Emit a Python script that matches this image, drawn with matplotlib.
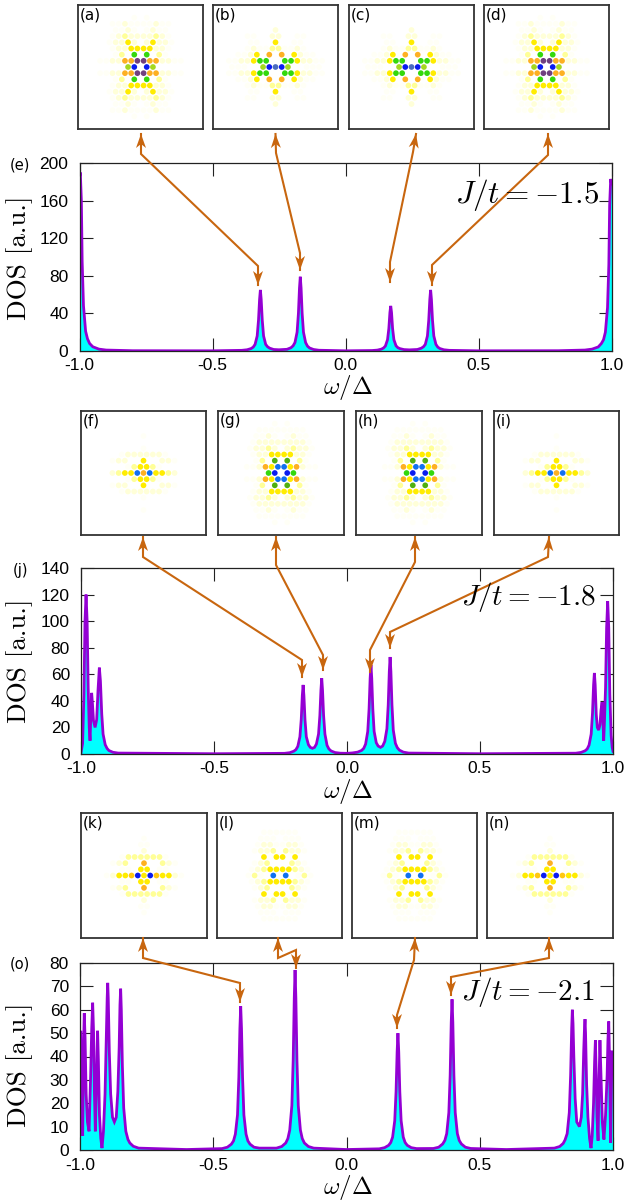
import numpy as np
import matplotlib
matplotlib.use("Agg")
import matplotlib.pyplot as plt
from matplotlib.patches import Polygon

plt.rcParams['font.family'] = ['Liberation Sans', 'DejaVu Sans']
plt.rcParams['mathtext.fontset'] = 'cm'

W, H = 626, 1202

### DOS curves
omega_e = [-1.0, -0.997, -0.993, -0.99, -0.985, -0.977, -0.97, -0.962, -0.95, -0.927, -0.9, -0.8, -0.5,
           -0.39, -0.37, -0.355, -0.347, -0.34, -0.332, -0.327, -0.323, -0.32, -0.317, -0.313, -0.308, -0.3, -0.293, -0.285, -0.27,
           -0.25, -0.22, -0.205, -0.197, -0.19, -0.182, -0.177, -0.173, -0.17, -0.167, -0.163, -0.158, -0.15, -0.143, -0.135, -0.12, -0.1,
           0.0,
           0.1, 0.12, 0.135, 0.143, 0.15, 0.158, 0.163, 0.167, 0.17, 0.173, 0.177, 0.182, 0.19, 0.197, 0.205, 0.22, 0.24,
           0.27, 0.285, 0.293, 0.3, 0.308, 0.313, 0.317, 0.32, 0.323, 0.327, 0.332, 0.34, 0.347, 0.355, 0.37, 0.39,
           0.5, 0.8, 0.9, 0.927, 0.95, 0.962, 0.97, 0.977, 0.985, 0.99, 0.993, 0.997, 1.0]
dos_e = [185, 190, 160, 95, 48, 21, 13, 8, 4.5, 2, 1, 0.3, 0.2,
         0.7, 1.3, 2.6, 4.1, 7, 16, 33, 55, 65, 55, 33, 16, 7, 4.5, 3, 1.6,
         1.3, 1.8, 3.5, 5.5, 9, 20, 40, 67, 79, 67, 40, 20, 9, 5.2, 3.2, 1.6, 0.8,
         0.2,
         0.5, 0.95, 2, 3.2, 5.3, 12, 24, 41, 48, 41, 24, 12, 5.5, 3.5, 2.5, 1.5, 1.2,
         1.6, 3, 4.5, 7, 16, 33, 55, 65, 55, 33, 16, 7, 4.1, 2.6, 1.3, 0.7,
         0.2, 0.3, 1, 2, 4.3, 8, 12, 20, 46, 92, 155, 183, 178]

omega_j = [-1.0, -0.994, -0.989, -0.985, -0.981, -0.977, -0.973, -0.969, -0.966, -0.963, -0.96, -0.957, -0.953,
           -0.947, -0.941, -0.936, -0.931, -0.927, -0.922, -0.917, -0.909, -0.902, -0.895, -0.88, -0.86, -0.5,
           -0.235, -0.215, -0.2, -0.192, -0.185, -0.177, -0.172, -0.168, -0.165, -0.162, -0.158, -0.153, -0.145, -0.138, -0.13, -0.122,
           -0.115, -0.107, -0.102, -0.098, -0.095, -0.092, -0.088, -0.083, -0.075, -0.068, -0.06, -0.045, -0.025, 0.0,
           0.02, 0.04, 0.055, 0.063, 0.07, 0.078, 0.083, 0.087, 0.09, 0.093, 0.097, 0.102, 0.11, 0.117, 0.126, 0.134,
           0.142, 0.15, 0.155, 0.159, 0.162, 0.165, 0.169, 0.174, 0.182, 0.189, 0.197, 0.212, 0.232, 0.5,
           0.86, 0.88, 0.895, 0.903, 0.91, 0.918, 0.923, 0.927, 0.93, 0.933, 0.937, 0.941, 0.946, 0.951, 0.955, 0.959,
           0.962, 0.965, 0.968, 0.972, 0.976, 0.98, 0.984, 0.988, 0.993, 0.997, 1.0]
dos_j = [1, 8, 45, 100, 120, 100, 50, 20, 10, 30, 46, 38, 25,
         20, 26, 48, 65, 55, 30, 15, 7, 4.2, 2.6, 1.3, 0.7, 0.2,
         0.5, 1, 2.1, 3.3, 5.7, 13, 26, 44, 52, 44, 26, 13, 7, 5, 4.3, 5,
         7.5, 15, 29, 48, 57, 48, 29, 15, 6.5, 3.8, 2.3, 1.1, 0.6, 0.5,
         0.8, 1.4, 2.7, 4.3, 7.5, 17, 34, 57, 67, 57, 34, 17, 8.5, 6, 5, 6,
         9.5, 19, 37, 62, 73, 62, 37, 18, 8, 4.8, 2.9, 1.4, 0.7, 0.2,
         0.6, 1.2, 2.4, 3.8, 6.7, 15, 31, 52, 61, 52, 30, 20, 18, 22, 33, 39,
         26, 10, 25, 50, 95, 115, 95, 45, 14, 5, 2]

omega_o = [-1.0, -0.997, -0.994, -0.99, -0.988, -0.986, -0.984, -0.981, -0.977, -0.972, -0.966,
           -0.96, -0.956, -0.9525, -0.949, -0.946, -0.9425, -0.939, -0.936, -0.934, -0.931, -0.927, -0.922,
           -0.9175, -0.912, -0.906, -0.901, -0.898, -0.896, -0.894, -0.89, -0.885, -0.878, -0.871, -0.864,
           -0.858, -0.853, -0.85, -0.8475, -0.845, -0.841, -0.836, -0.828, -0.82, -0.813, -0.8, -0.78, -0.6,
           -0.467, -0.447, -0.432, -0.424, -0.417, -0.409, -0.404, -0.4, -0.397, -0.394, -0.39, -0.385, -0.377, -0.37, -0.362, -0.347, -0.327,
           -0.263, -0.243, -0.228, -0.22, -0.213, -0.205, -0.2, -0.196, -0.193, -0.19, -0.186, -0.181, -0.173, -0.166, -0.158, -0.143, -0.123,
           0.0,
           0.123, 0.143, 0.158, 0.166, 0.173, 0.181, 0.186, 0.19, 0.193, 0.196, 0.2, 0.205, 0.213, 0.22, 0.228, 0.243, 0.263,
           0.326, 0.346, 0.361, 0.369, 0.376, 0.384, 0.389, 0.393, 0.396, 0.399, 0.403, 0.408, 0.416, 0.423, 0.431, 0.446, 0.466,
           0.6, 0.78, 0.8, 0.813, 0.82, 0.828, 0.836, 0.841, 0.845, 0.8475, 0.85, 0.853, 0.858, 0.864, 0.874,
           0.881, 0.886, 0.89, 0.893, 0.895, 0.897, 0.901, 0.906, 0.912, 0.9175,
           0.922, 0.927, 0.931, 0.934, 0.937, 0.94, 0.944, 0.947, 0.951, 0.955, 0.96, 0.966,
           0.972, 0.978, 0.981, 0.984, 0.987, 0.991, 0.993, 0.996, 1.0]
dos_o = [50, 51, 22, 6, 25, 48, 58.5, 48, 24, 12, 8,
         32, 52, 63, 50, 25, 8, 24, 42, 51, 38, 15, 5,
         0.8, 8, 24, 50, 65, 71.5, 65, 42, 24, 14, 12, 14,
         25, 44, 62, 69, 60, 36, 18, 8, 4.5, 3, 1.6, 0.8, 0.2,
         0.6, 1.2, 2.5, 3.9, 6.8, 15, 31, 52, 61.5, 52, 31, 15, 6.8, 3.9, 2.5, 1.2, 0.8,
         0.8, 1.5, 3, 4.9, 8.5, 19, 38.5, 65, 77, 65, 38.5, 19, 8.5, 4.9, 3, 1.5, 0.8,
         0.2,
         0.5, 1, 2, 3.2, 5.5, 12.5, 25, 42, 50, 42, 25, 12.5, 5.5, 3.2, 2, 1, 0.6,
         0.65, 1.2, 2.6, 4.1, 7, 16, 32, 54.5, 64.5, 54.5, 32, 16, 7, 4.1, 2.6, 1.2, 0.65,
         0.2, 0.8, 1.5, 2.8, 4.3, 7, 16, 32, 52, 60, 54, 40, 22, 12, 10,
         14, 24, 42, 52, 56, 50, 28, 14, 5, 0.8,
         6, 20, 38, 47, 32, 14, 4, 26, 47, 32, 12, 4.5,
         15, 32, 47, 55, 38, 3, 20, 42, 42]

xticks = [-1.0, -0.5, 0.0, 0.5, 1.0]
xticklabels = ['-1.0', '-0.5', '0.0', '0.5', '1.0']
yticks_e = [0, 40, 80, 120, 160, 200]
yticks_j = [0, 20, 40, 60, 80, 100, 120, 140]
yticks_o = [0, 10, 20, 30, 40, 50, 60, 70, 80]

### Inset weights: upper right quadrant, row by row from the centre line, '.' = no site
sites_ad = ['.96', 'P552211', '.7.31', '44221', '.24221', '22321', '.1211', '11211', '.1']
sites_bc = ['S96..111', '.7742211', '.5.4211', '31121', '4..11', '2..11', '2']
sites_fi = ['584432', '431', '4..221', '2221', '1', '', '1']
sites_gh = ['.97', '845211', '.D.31', '44221', '.23221', '22221', '.1211', '1111', '.1']
sites_kn = ['49o4421', '4.11', '5..321', '3331', '2', '1', '1']
sites_lm = ['.8.131', '44321', '..321', '4.4', '.3221', '1221', '.111', '111']

level_colors = {'1': '#fffff6', '2': '#ffffd8', '3': '#ffff98', '4': '#ffec00', 'o': '#ffc810',
                '5': '#fdb022', '6': '#a4d820', '7': '#34d80c', 'D': '#50b010', '8': '#1070f0',
                '9': '#0a1cf0', 'S': '#4a6cc0', 'P': '#704080'}

insets = [('(a)', sites_ad, 78, 5, 125, 124), ('(b)', sites_bc, 213, 5, 125, 124),
          ('(c)', sites_bc, 349, 5, 125, 124), ('(d)', sites_ad, 484, 5, 125, 124),
          ('(f)', sites_fi, 81, 411, 125, 124), ('(g)', sites_gh, 218, 411, 126, 124),
          ('(h)', sites_gh, 356, 411, 126, 124), ('(i)', sites_fi, 494, 411, 125, 124),
          ('(k)', sites_kn, 81, 813, 126, 125), ('(l)', sites_lm, 217, 813, 125, 125),
          ('(m)', sites_lm, 352, 813, 125, 125), ('(n)', sites_kn, 487, 813, 126, 125)]

fig = plt.figure(figsize=(W / 100, H / 100), dpi=100)


def px_axes(x0, y0, x1, y1):
    return fig.add_axes([x0 / W, 1 - y1 / H, (x1 - x0) / W, (y1 - y0) / H])


### DOS panels
panels = [(omega_e, dos_e, yticks_e, (79.5, 163, 611.5, 351), 5),
          (omega_j, dos_j, yticks_j, (81, 568, 613, 754), 5),
          (omega_o, dos_o, yticks_o, (80, 963, 613, 1150), 5.5)]

for om, dos, yt, box, pad in panels:
    ax = px_axes(*box)
    ax.fill_between(om, 0, dos, color='#00ffff', lw=0)
    ax.plot(om, dos, color='#9400d3', lw=2.0, solid_joinstyle='miter')
    ax.set_xlim(-1, 1)
    ax.set_ylim(yt[0], yt[-1])
    ax.set_xticks(xticks)
    ax.set_xticklabels(xticklabels)
    ax.set_yticks(yt)
    ax.set_axisbelow(True)
    ax.tick_params(axis='both', direction='in', length=9.4, width=0.8, top=True, right=True,
                   labelsize=12.5, color='#222222')
    ax.tick_params(axis='x', pad=pad)
    ax.tick_params(axis='y', pad=8)
    for s in ax.spines.values():
        s.set_linewidth(0.9)
        s.set_color('#222222')

### Local density maps
for name, rows, x0, y0, w, h in insets:
    ax = px_axes(x0, y0, x0 + w, y0 + h)
    xs, ys, cs = [], [], []
    for r, row in enumerate(rows):
        off = 0.5 if r % 2 else 0.0
        for k, c in enumerate(row):
            if c == '.':
                continue
            x = k + off
            for sx in (1, -1):
                for sy in (1, -1):
                    if (x == 0 and sx < 0) or (r == 0 and sy < 0):
                        continue
                    xs.append(sx * x)
                    ys.append(sy * r)
                    cs.append(level_colors[c])
    ax.scatter(xs, ys, s=17, c=cs, linewidths=0)
    ax.set_xlim(-w / 2 / 6.22, w / 2 / 6.22)
    ax.set_ylim(-h / 2 / 6.17, h / 2 / 6.17)
    ax.set_xticks([])
    ax.set_yticks([])
    for s in ax.spines.values():
        s.set_linewidth(1.3)
        s.set_color('#333333')
    ax.text(0.015, 0.98, name, transform=ax.transAxes, ha='left', va='top', fontsize=11,
            family='DejaVu Sans')

### Overlay in pixel coordinates for arrows and labels
over = fig.add_axes([0, 0, 1, 1], zorder=10)
over.set_xlim(0, W)
over.set_ylim(H, 0)
over.axis('off')
over.patch.set_alpha(0)

arrow_color = '#c8660f'


def head(tip, frm):
    tip = np.array(tip, float)
    d = tip - np.array(frm, float)
    d = d / np.hypot(*d)
    n = np.array([-d[1], d[0]])
    pts = [tip, tip - 14 * d + 5 * n, tip - 10 * d, tip - 14 * d - 5 * n]
    over.add_patch(Polygon(pts, closed=True, fc=arrow_color, ec='none'))


paths = [[(141, 134), (141, 154), (258, 266), (258, 285)],
         [(275.5, 134), (276, 153), (300, 253), (300, 270)],
         [(416, 134), (413, 152), (390, 262), (390, 282)],
         [(548, 134), (548, 155), (432, 265), (432, 285)],
         [(143, 537), (143, 557), (302, 660), (302, 677)],
         [(276, 537), (276, 565), (323, 655), (323, 670)],
         [(415, 537), (415, 562), (370, 650), (370, 672)],
         [(549, 537), (548, 557), (390, 632), (390, 648)],
         [(143, 938), (143, 958), (240, 983), (240, 1002)],
         [(278, 938), (278, 958), (296, 950), (296, 968)],
         [(415, 938), (414, 960), (397, 1015), (397, 1028)],
         [(549, 938), (549, 958), (451, 977), (451, 995)]]
for p in paths:
    xs, ys = zip(*p)
    over.plot(xs, ys, color=arrow_color, lw=1.5, solid_joinstyle='miter')
    head(p[0], p[1])
    head(p[-1], p[-2])

for yc in (258, 661, 1065):
    over.text(20, yc, 'DOS [a.u.]', rotation=90, ha='center', va='center', fontsize=19.5, family='cmr10')
for yc in (388, 792, 1188):
    over.text(348, yc, r'$\omega/\Delta$', ha='center', va='center', fontsize=18)
for xc, yc, s, fs in ((527, 195, r'$J/t=-1.5$', 22.5), (528, 597, r'$J/t=-1.8$', 21), (528, 992, r'$J/t=-2.1$', 21)):
    over.text(xc, yc, s, ha='center', va='center', fontsize=fs)
for xc, yc, s in ((20, 165, '(e)'), (20, 570, '(j)'), (20, 964, '(o)')):
    over.text(xc, yc, s, ha='center', va='center', fontsize=10.5, family='DejaVu Sans')

fig.savefig('out.png', dpi=100)
